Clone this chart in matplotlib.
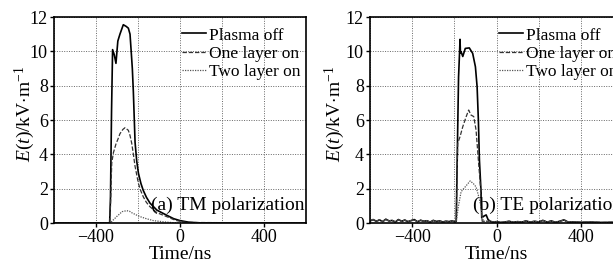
import matplotlib
matplotlib.use("Agg")
import matplotlib.pyplot as plt
import numpy as np

plt.rcParams['font.family'] = ['Liberation Serif', 'DejaVu Serif']
plt.rcParams['mathtext.fontset'] = 'custom'
plt.rcParams['mathtext.rm'] = 'Liberation Serif'
plt.rcParams['mathtext.it'] = 'Liberation Serif:italic'

# ---------------- data: (a) TM polarization ----------------
tm_off_t = [-600, -335, -331, -326, -321, -313, -305, -296, -286, -270, -256, -246, -238, -233, -227, -222, -214, -206, -198, -186, -175, -160, -143, -110, -63, -30, 0, 40, 100, 600]
tm_off_e = [0, 0, 1.5, 6.5, 10.1, 9.8, 9.3, 10.6, 11.0, 11.55, 11.45, 11.35, 11.0, 10.1, 9.0, 7.6, 4.7, 3.6, 2.9, 2.3, 1.9, 1.5, 1.16, 0.75, 0.45, 0.25, 0.14, 0.05, 0, 0]

tm_one_t = [-600, -335, -331, -325, -317, -305, -295, -286, -272, -262, -246, -238, -230, -222, -214, -206, -198, -186, -175, -160, -143, -110, -63, -20, 30, 600]
tm_one_e = [0, 0, 1.0, 3.5, 4.1, 4.6, 4.9, 5.2, 5.45, 5.55, 5.4, 5.1, 4.65, 4.0, 3.3, 2.8, 2.3, 1.85, 1.53, 1.2, 0.95, 0.6, 0.37, 0.15, 0.03, 0]

tm_two_t = [-600, -333, -320, -302, -290, -276, -254, -240, -230, -210, -190, -160, -127, -80, -33, 20, 600]
tm_two_e = [0, 0, 0.15, 0.37, 0.5, 0.66, 0.72, 0.68, 0.6, 0.48, 0.37, 0.25, 0.14, 0.07, 0.02, 0, 0]

# ---------------- data: (b) TE polarization ----------------
te_pre_t = [-600, -585, -570, -555, -540, -525, -510, -495, -480, -465, -450, -435, -420, -405, -390, -375, -360, -345, -330, -315, -300, -285, -270, -255, -240, -225, -210, -196]
te_pre_e = [0.12, 0.2, 0.1, 0.18, 0.08, 0.22, 0.12, 0.15, 0.06, 0.2, 0.1, 0.17, 0.08, 0.14, 0.2, 0.07, 0.16, 0.1, 0.13, 0.05, 0.15, 0.09, 0.12, 0.06, 0.1, 0.08, 0.12, 0.06]

te_post_t = [-30, -15, 0, 20, 40, 60, 80, 100, 120, 140, 160, 180, 200, 220, 240, 260, 280, 300, 320, 340, 360, 400, 450, 500, 550, 600]
te_post_e = [0.1, 0.05, 0.08, 0.03, 0.06, 0.1, 0.04, 0.08, 0.05, 0.12, 0.05, 0.1, 0.06, 0.15, 0.05, 0.12, 0.04, 0.1, 0.18, 0.05, 0.06, 0.04, 0.05, 0.03, 0.04, 0.03]

te_off_t = [-191, -186, -180, -175, -173, -171, -168, -160, -148, -129, -113, -100, -92, -86, -81, -73, -70, -60, -49, -40]
te_off_e = [0.1, 4.0, 8.5, 10.0, 10.7, 9.9, 9.98, 9.7, 10.17, 10.2, 9.88, 9.1, 7.94, 6.0, 3.67, 1.75, 0.3, 0.4, 0.47, 0.2]

te_one_t = [-191, -186, -184, -173, -160, -144, -132, -121, -108, -97, -86, -76, -72, -68]
te_one_e = [0.1, 3.5, 4.64, 5.03, 5.61, 6.19, 6.58, 6.29, 6.2, 5.42, 3.67, 2.11, 1.0, 0.1]

te_two_t = [-191, -186, -181, -168, -148, -125, -110, -97, -84, -73, -68, -62]
te_two_e = [0.1, 0.5, 0.95, 1.82, 2.11, 2.45, 2.3, 2.1, 1.53, 0.95, 0.4, 0.1]

labels = ['Plasma off', 'One layer on', 'Two layer on']
xticks = [-400, 0, 400]
xticklabels = ['\u2212400', '0', '400']
yticks = [0, 2, 4, 6, 8, 10, 12]

fig = plt.figure(figsize=(6.13, 2.67), dpi=100)
axA = fig.add_axes([54/613, 44/267, 252/613, 206/267])
axB = fig.add_axes([370/613, 44/267, 253/613, 206/267])

styles = [dict(color='black', lw=1.2, ls='-'),
          dict(color='#333333', lw=0.9, ls=(0, (3.5, 1.5))),
          dict(color='#555555', lw=0.9, ls=(0, (1, 1)))]

def te(t_mid, e_mid):
    return te_pre_t + t_mid + te_post_t, te_pre_e + e_mid + te_post_e

seriesA = [(tm_off_t, tm_off_e), (tm_one_t, tm_one_e), (tm_two_t, tm_two_e)]
seriesB = [te(te_off_t, te_off_e), te(te_one_t, te_one_e), te(te_two_t, te_two_e)]

for ax, series, txt, ylx in [(axA, seriesA, '(a) TM polarization', -0.068),
                             (axB, seriesB, '(b) TE polarization', -0.09)]:
    for (t, e), st, lab in zip(series, styles, labels):
        ax.plot(t, e, label=lab, **st)
    ax.set_xlim(-600, 600)
    ax.set_ylim(0, 12)
    ax.set_xticks(xticks)
    ax.set_xticks([-600, -200, 200, 600], minor=True)
    ax.set_yticks(yticks)
    ax.grid(True, which='both', ls=(0, (1, 1.5)), color='#666666', lw=0.7)
    ax.tick_params(axis='both', which='major', labelsize=13, length=3, width=1, direction='out', pad=1.5)
    ax.tick_params(axis='x', which='minor', length=0)
    ax.set_xticklabels(xticklabels)
    for s in ax.spines.values():
        s.set_linewidth(1.2)
    ax.set_xlabel('Time/ns', fontsize=14, labelpad=0)
    ax.set_ylabel(r'$E(t)$/kV$\cdot$m$^{-1}$', fontsize=14)
    ax.yaxis.set_label_coords(ylx, 0.53)
    ax.legend(loc='upper right', bbox_to_anchor=(1.0, 0.975), frameon=False, fontsize=12.5,
              handlelength=1.4, handletextpad=0.2, labelspacing=0.12, borderaxespad=0.1,
              borderpad=0.2)
    ax.text(0.995, 0.085, txt, transform=ax.transAxes, ha='right', va='center', fontsize=14)

fig.savefig('out.png', dpi=100)
